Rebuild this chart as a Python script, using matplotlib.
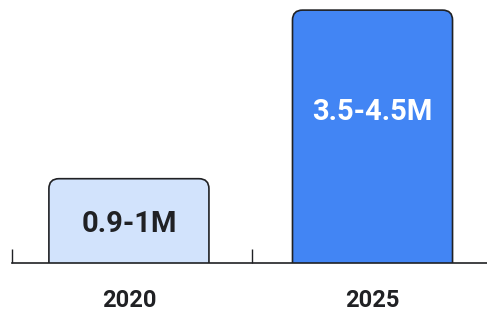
import matplotlib
matplotlib.use("Agg")
import matplotlib.pyplot as plt
from matplotlib.patches import FancyBboxPatch

years = ["2020", "2025"]
heights = [1.5, 4.5]          # bar height (upper end of the range, roughly)
labels = ["0.9-1M", "3.5-4.5M"]
fills = ["#d2e3fc", "#4285f4"]
text_colors = ["#202124", "#ffffff"]
label_pos = [0.7, 2.68]       # vertical position of the value text

dark = "#202124"
plt.rcParams["font.family"] = ["Roboto", "DejaVu Sans"]

fig = plt.figure(figsize=(4.87, 3.12), dpi=100)
ax = fig.add_axes([12 / 487, 49 / 312, 475 / 487, 263 / 312])
ax.set_xlim(-0.48, 1.47)
ax.set_ylim(0, 4.68)

x = list(range(len(years)))
bars = ax.bar(x, heights, width=0.657)

# pixel scale so the rounded corners come out circular
fig.canvas.draw()
px_x = ax.transData.transform((1, 0))[0] - ax.transData.transform((0, 0))[0]
px_y = ax.transData.transform((0, 1))[1] - ax.transData.transform((0, 0))[1]
r_px = 10
for rect, fc in zip(bars, fills):
    rect.set_visible(False)
    extra = 0.5
    patch = FancyBboxPatch(
        (rect.get_x(), rect.get_y() - extra), rect.get_width(), rect.get_height() + extra,
        boxstyle=f"round,pad=0,rounding_size={r_px / px_x}",
        mutation_aspect=px_x / px_y,
        facecolor=fc, edgecolor=dark, linewidth=1.2, zorder=2)
    ax.add_patch(patch)

for xi, lab, tc, yp in zip(x, labels, text_colors, label_pos):
    ax.text(xi, yp, lab, ha="center", va="center", color=tc,
            fontsize=21, fontweight="bold", zorder=3)

for s in ["left", "right", "top"]:
    ax.spines[s].set_visible(False)
ax.spines["bottom"].set_color(dark)
ax.spines["bottom"].set_linewidth(1.2)
ax.spines["bottom"].set_zorder(4)

ax.set_yticks([])
ax.set_xticks(x)
ax.set_xticklabels(years, fontsize=17, fontweight="bold", color=dark)
ax.tick_params(axis="x", which="major", length=0, pad=19)
ax.set_xticks([-0.48, 0.505], minor=True)
ax.tick_params(axis="x", which="minor", direction="in", length=10, width=1.0, color=dark)

fig.savefig("out.png", dpi=100)
